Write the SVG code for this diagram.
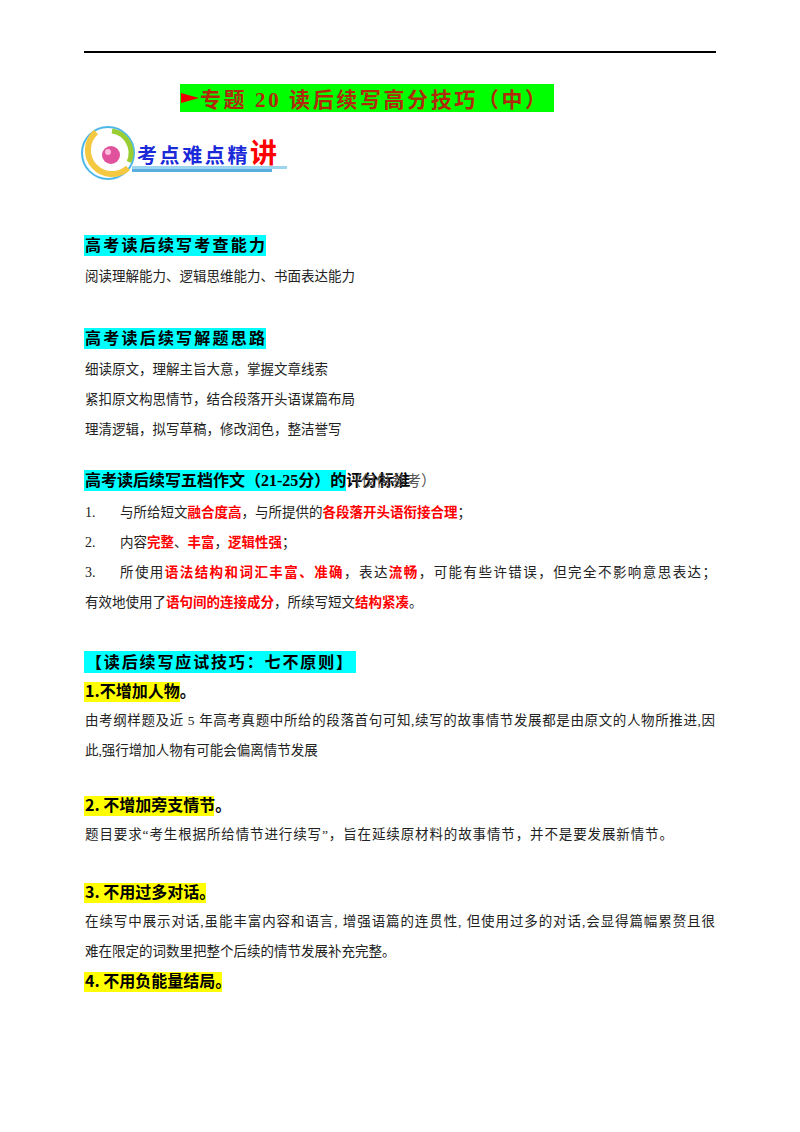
<svg xmlns="http://www.w3.org/2000/svg" width="800" height="1132" viewBox="0 0 800 1132">
<style>
text{font-family:"Liberation Serif","Noto Sans CJK SC",serif;}
.h{font-size:16px;font-weight:bold;fill:#000;font-family:"Noto Sans CJK SC",sans-serif;}
.b{font-size:13.5px;fill:#222;}
.r{fill:#f00;font-weight:bold;}
.y{fill:#ffff00;}
.c{fill:#00ffff;}
.n{font-size:14px;fill:#222;}
</style>
<rect width="800" height="1132" fill="#fff"/>
<line x1="84" y1="52" x2="716" y2="52" stroke="#000" stroke-width="2"/>
<g id="title">
<rect x="180" y="84" width="374" height="28" fill="#00ff00"/>
<polygon points="181,93 199,98 181,103" fill="#e00"/>
<text x="200" y="107" font-size="21" font-weight="bold" fill="#b02a0a" font-family="Noto Sans CJK SC,sans-serif" textLength="346">专题 <tspan font-family="Liberation Serif">20</tspan>  读后续写高分技巧（中）</text>
</g>
<g id="logo">
<circle cx="108" cy="153" r="26" fill="none" stroke="#4db8e8" stroke-width="2"/>
<path d="M96 132 A22 22 0 1 0 128 168" fill="none" stroke="#f5c842" stroke-width="6"/>
<path d="M112 131 A22 22 0 0 1 129 162" fill="none" stroke="#9acd32" stroke-width="5"/>
<circle cx="111" cy="155" r="9" fill="#e0529c"/>
<circle cx="108" cy="152" r="3" fill="#fbd"/>
<rect x="132" y="166" width="155" height="3" fill="#9dd4f0"/>
<rect x="132" y="169" width="140" height="3" fill="#5aaee0"/>
<text x="137" y="163" font-size="20" font-weight="bold" fill="#1a2ad8" font-family="Noto Sans CJK SC,sans-serif" textLength="140">考点难点精<tspan fill="#f00" font-size="27">讲</tspan></text>
</g>
<rect class="c" x="84" y="235" width="182" height="21"/>
<text class="h" x="85" y="251" textLength="180">高考读后续写考查能力</text>
<text class="b" x="85" y="281">阅读理解能力、逻辑思维能力、书面表达能力</text>
<rect class="c" x="84" y="328" width="182" height="21"/>
<text class="h" x="85" y="344" textLength="180">高考读后续写解题思路</text>
<text class="b" x="85" y="374">细读原文，理解主旨大意，掌握文章线索</text>
<text class="b" x="85" y="404">紧扣原文构思情节，结合段落开头语谋篇布局</text>
<text class="b" x="85" y="434">理清逻辑，拟写草稿，修改润色，整洁誉写</text>
<rect class="c" x="84" y="470" width="262" height="21"/>
<text class="h" x="85" y="486" font-size="14.5">高考读后续写五档作文（<tspan font-family="Liberation Serif">21-25</tspan>分）的评分标准</text>
<text x="346" y="486" font-size="15" fill="#555" font-family="Noto Sans CJK SC,sans-serif">（仅供参考）</text>
<text class="n" x="85" y="517">1.</text>
<text class="b" x="120" y="517">与所给短文<tspan class="r">融合度高</tspan>，与所提供的<tspan class="r">各段落开头语衔接合理</tspan>；</text>
<text class="n" x="85" y="547">2.</text>
<text class="b" x="120" y="547">内容<tspan class="r">完整</tspan>、<tspan class="r">丰富</tspan>，<tspan class="r">逻辑性强</tspan>；</text>
<text class="n" x="85" y="577">3.</text>
<text class="b" x="120" y="577" textLength="596">所使用<tspan class="r">语法结构和词汇丰富、准确</tspan>，表达<tspan class="r">流畅</tspan>，可能有些许错误，但完全不影响意思表达；</text>
<text class="b" x="85" y="607">有效地使用了<tspan class="r">语句间的连接成分</tspan>，所续写短文<tspan class="r">结构紧凑</tspan>。</text>
<rect class="c" x="84" y="651" width="272" height="22"/>
<text class="h" x="86" y="668" font-size="16.5" textLength="266">【读后续写应试技巧：七不原则】</text>
<rect class="y" x="84" y="682" width="96" height="20"/>
<text class="h" x="85" y="697" font-size="13">1.不增加人物。</text>
<text class="b" x="85" y="725" textLength="630">由考纲样题及近 5 年高考真题中所给的段落首句可知,续写的故事情节发展都是由原文的人物所推进,因</text>
<text class="b" x="85" y="755">此,强行增加人物有可能会偏离情节发展</text>
<rect class="y" x="84" y="796" width="130" height="20"/>
<text class="h" x="85" y="811" font-size="13">2. 不增加旁支情节。</text>
<text class="b" x="85" y="839" textLength="588">题目要求“考生根据所给情节进行续写”，旨在延续原材料的故事情节，并不是要发展新情节。</text>
<rect class="y" x="84" y="883" width="122" height="20"/>
<text class="h" x="85" y="898" font-size="13">3. 不用过多对话。</text>
<text class="b" x="85" y="926" textLength="630">在续写中展示对话,虽能丰富内容和语言, 增强语篇的连贯性, 但使用过多的对话,会显得篇幅累赘且很</text>
<text class="b" x="85" y="956">难在限定的词数里把整个后续的情节发展补充完整。</text>
<rect class="y" x="84" y="972" width="138" height="20"/>
<text class="h" x="85" y="987" font-size="13">4. 不用负能量结局。</text>
</svg>
